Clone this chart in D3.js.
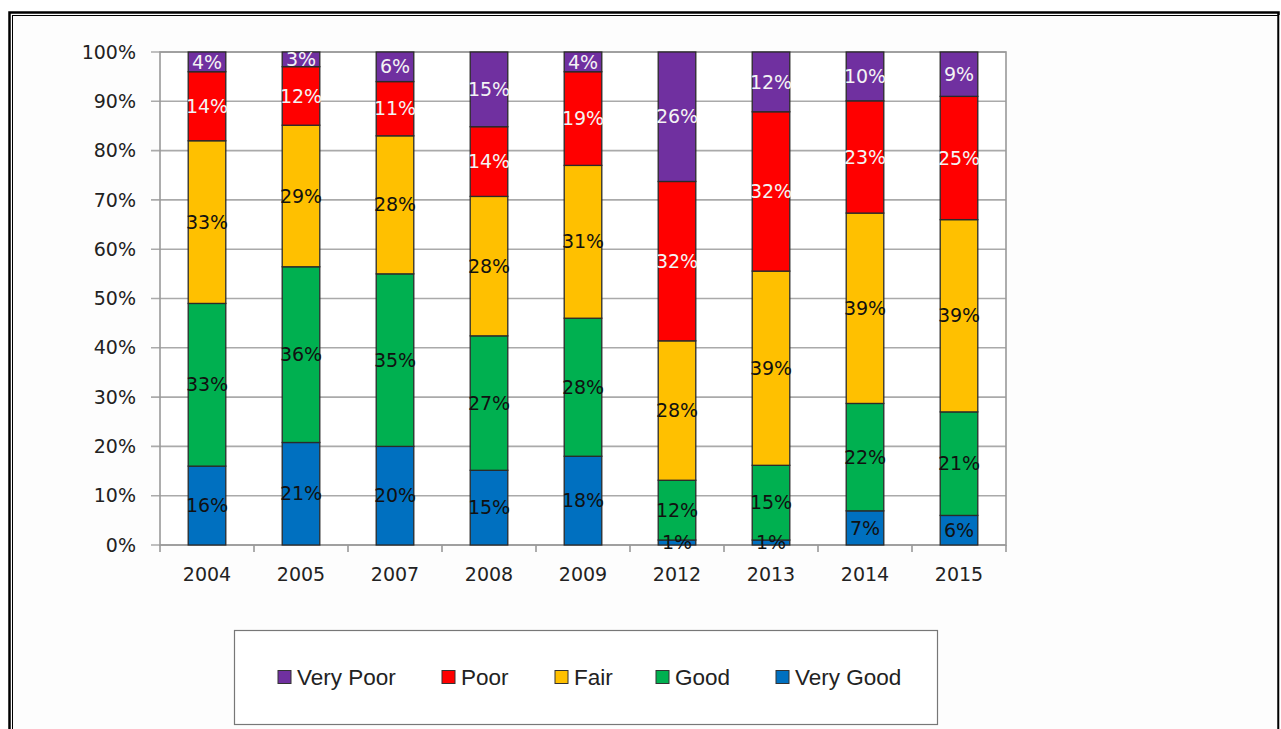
<!DOCTYPE html>
<html lang="en">
<head>
  <meta charset="UTF-8">
  <title>Condition ratings by year</title>
  <script src="https://d3js.org/d3.v7.min.js"></script>
  <style>
    body { margin: 0; background: #fff; }
    svg { display: block; }
  </style>
</head>
<body>
<svg id="chart" width="1281" height="729"></svg>
<script>
  // Data (percent of each year)
  const years = ["2004", "2005", "2007", "2008", "2009", "2012", "2013", "2014", "2015"];
  const categories = ["Very Good", "Good", "Fair", "Poor", "Very Poor"];
  const veryGood = [16, 21, 20, 15, 18, 1, 1, 7, 6];
  const good     = [33, 36, 35, 27, 28, 12, 15, 22, 21];
  const fair     = [33, 29, 28, 28, 31, 28, 39, 39, 39];
  const poor     = [14, 12, 11, 14, 19, 32, 32, 23, 25];
  const veryPoor = [4, 3, 6, 15, 4, 26, 12, 10, 9];
  const yTicks = [0, 0.1, 0.2, 0.3, 0.4, 0.5, 0.6, 0.7, 0.8, 0.9, 1];
  const legendOrder = ["Very Poor", "Poor", "Fair", "Good", "Very Good"];

  const colors = {
    "Very Good": "#0070C0",
    "Good": "#00B050",
    "Fair": "#FFC000",
    "Poor": "#FF0000",
    "Very Poor": "#7030A0"
  };
  const labelColor = {
    "Very Good": "#111",
    "Good": "#111",
    "Fair": "#111",
    "Poor": "#f4f4f4",
    "Very Poor": "#f4f4f4"
  };

  const series = [veryGood, good, fair, poor, veryPoor];
  const table = years.map((y, i) => {
    const row = { year: y };
    categories.forEach((c, k) => row[c] = series[k][i]);
    return row;
  });

  const svg = d3.select("#chart");

  // outer frame
  svg.append("rect").attr("x", 0).attr("y", 0).attr("width", 1281).attr("height", 729).attr("fill", "#fff");
  svg.append("rect")
    .attr("x", 9.5).attr("y", 12.5).attr("width", 1269).attr("height", 740)
    .attr("fill", "#fdfdfd").attr("stroke", "#000").attr("stroke-width", 2.5);
  svg.append("rect")
    .attr("x", 12.5).attr("y", 15.5).attr("width", 1266).attr("height", 740)
    .attr("fill", "none").attr("stroke", "#000").attr("stroke-width", 1);
  svg.append("line")
    .attr("x1", 1279.5).attr("x2", 1279.5).attr("y1", 15).attr("y2", 729)
    .attr("stroke", "#bbb").attr("stroke-width", 1);

  const margin = { left: 160, right: 1006, top: 52, bottom: 545 };

  const x = d3.scaleBand()
    .domain(years)
    .range([margin.left, margin.right])
    .paddingInner(0.6)
    .paddingOuter(0.3);

  const y = d3.scaleLinear()
    .domain([0, 1])
    .range([margin.bottom, margin.top]);

  // plot area background + gridlines
  svg.append("rect")
    .attr("x", margin.left).attr("y", margin.top)
    .attr("width", margin.right - margin.left).attr("height", margin.bottom - margin.top)
    .attr("fill", "#fff");

  svg.append("g")
    .selectAll("line")
    .data(yTicks)
    .join("line")
    .attr("x1", margin.left - 9).attr("x2", margin.right)
    .attr("y1", d => y(d)).attr("y2", d => y(d))
    .attr("stroke", "#aaa").attr("stroke-width", 1.6);

  // plot area border (right and top)
  svg.append("rect")
    .attr("x", margin.left).attr("y", margin.top)
    .attr("width", margin.right - margin.left).attr("height", margin.bottom - margin.top)
    .attr("fill", "none").attr("stroke", "#999").attr("stroke-width", 1.6);

  // y tick labels
  svg.append("g")
    .selectAll("text")
    .data(yTicks)
    .join("text")
    .attr("x", 136).attr("y", d => y(d))
    .attr("dy", "0.35em")
    .attr("text-anchor", "end")
    .attr("font-family", "DejaVu Sans, sans-serif")
    .attr("font-size", 19)
    .attr("fill", "#222")
    .text(d3.format(".0%"));

  // x axis tick marks at band edges
  const edges = d3.range(years.length + 1).map(i => margin.left + i * x.step());
  svg.append("g")
    .selectAll("line")
    .data(edges)
    .join("line")
    .attr("x1", d => d).attr("x2", d => d)
    .attr("y1", margin.bottom).attr("y2", margin.bottom + 7)
    .attr("stroke", "#999").attr("stroke-width", 1.6);

  // x labels
  svg.append("g")
    .selectAll("text")
    .data(years)
    .join("text")
    .attr("x", d => x(d) + x.bandwidth() / 2)
    .attr("y", 574)
    .attr("dy", "0.35em")
    .attr("text-anchor", "middle")
    .attr("font-family", "DejaVu Sans, sans-serif")
    .attr("font-size", 19)
    .attr("fill", "#222")
    .text(d => d);

  // stacked bars, normalised so each year fills 100%
  const stacked = d3.stack()
    .keys(categories)
    .offset(d3.stackOffsetExpand)(table);

  const groups = svg.append("g")
    .selectAll("g")
    .data(stacked)
    .join("g")
    .attr("fill", d => colors[d.key]);

  groups.selectAll("rect")
    .data(d => d)
    .join("rect")
    .attr("x", d => x(d.data.year))
    .attr("y", d => y(d[1]))
    .attr("width", x.bandwidth())
    .attr("height", d => y(d[0]) - y(d[1]))
    .attr("stroke", "#2a2a2a")
    .attr("stroke-width", 1.3);

  // segment labels
  stacked.forEach(s => {
    svg.append("g")
      .selectAll("text")
      .data(s)
      .join("text")
      .attr("x", d => x(d.data.year) + x.bandwidth() / 2)
      .attr("y", d => y((d[0] + d[1]) / 2))
      .attr("dy", "0.35em")
      .attr("text-anchor", "middle")
      .attr("font-family", "DejaVu Sans, sans-serif")
      .attr("font-size", 19)
      .attr("fill", labelColor[s.key])
      .text(d => d.data[s.key] + "%");
  });

  // legend
  svg.append("rect")
    .attr("x", 234.5).attr("y", 630.5).attr("width", 703).attr("height", 94)
    .attr("fill", "#fff").attr("stroke", "#777").attr("stroke-width", 1.2);

  const legendX = d3.scaleOrdinal()
    .domain(legendOrder)
    .range([278, 442, 555, 656, 776]);

  const legend = svg.append("g")
    .selectAll("g")
    .data(legendOrder)
    .join("g")
    .attr("transform", d => `translate(${legendX(d)},677)`);

  legend.append("rect")
    .attr("x", 0).attr("y", -6.5).attr("width", 13).attr("height", 13)
    .attr("fill", d => colors[d])
    .attr("stroke", "#333").attr("stroke-width", 1);

  legend.append("text")
    .attr("x", 19).attr("y", 0)
    .attr("dy", "0.35em")
    .attr("font-family", "Liberation Sans, sans-serif")
    .attr("font-size", 22.5)
    .attr("fill", "#222")
    .text(d => d);
</script>
</body>
</html>
